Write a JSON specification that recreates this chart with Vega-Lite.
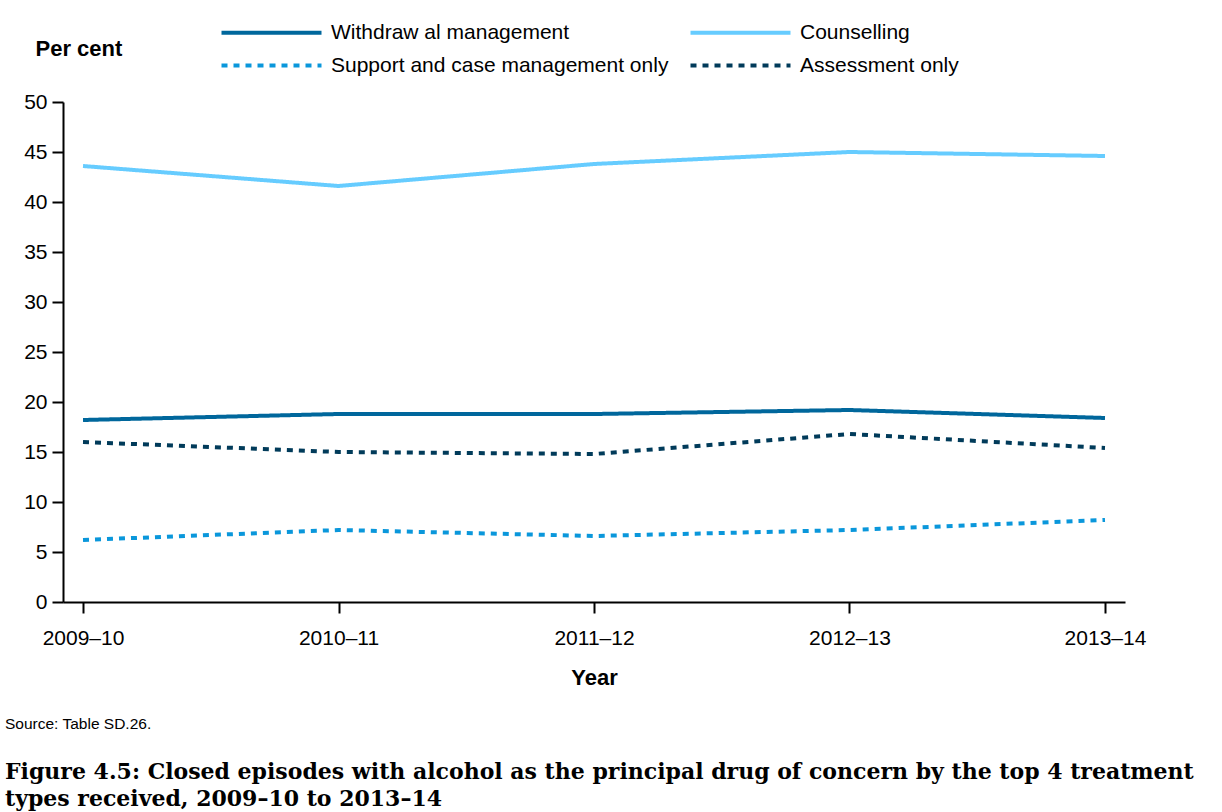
{
  "$schema": "https://vega.github.io/schema/vega-lite/v6.json",
  "width": 1062,
  "height": 500,
  "autosize": {"type": "none"},
  "padding": {"left": 63, "top": 102, "right": 97, "bottom": 210},
  "background": "white",
  "config": {
    "font": "Liberation Sans",
    "view": {"stroke": null},
    "axis": {"grid": false, "domainColor": "black", "tickColor": "black", "labelColor": "black", "titleColor": "black"}
  },
  "title": {
    "text": "Source: Table SD.26.",
    "subtitle": ["Figure 4.5: Closed episodes with alcohol as the principal drug of concern by the top 4 treatment", "types received, 2009–10 to 2013–14"],
    "orient": "bottom",
    "anchor": "start",
    "frame": "group",
    "dx": -58,
    "offset": 29,
    "font": "Liberation Sans",
    "fontSize": 15.5,
    "fontWeight": "normal",
    "color": "black",
    "subtitleFont": "DejaVu Serif",
    "subtitleFontSize": 22,
    "subtitleFontWeight": "bold",
    "subtitleColor": "black",
    "subtitleLineHeight": 27,
    "subtitlePadding": 29
  },
  "data": {
    "values": [
      {"year": "2009–10", "type": "Withdraw al management", "value": 18.2},
      {"year": "2010–11", "type": "Withdraw al management", "value": 18.8},
      {"year": "2011–12", "type": "Withdraw al management", "value": 18.8},
      {"year": "2012–13", "type": "Withdraw al management", "value": 19.2},
      {"year": "2013–14", "type": "Withdraw al management", "value": 18.4},
      {"year": "2009–10", "type": "Counselling", "value": 43.6},
      {"year": "2010–11", "type": "Counselling", "value": 41.6},
      {"year": "2011–12", "type": "Counselling", "value": 43.8},
      {"year": "2012–13", "type": "Counselling", "value": 45.0},
      {"year": "2013–14", "type": "Counselling", "value": 44.6},
      {"year": "2009–10", "type": "Support and case management only", "value": 6.2},
      {"year": "2010–11", "type": "Support and case management only", "value": 7.2},
      {"year": "2011–12", "type": "Support and case management only", "value": 6.6},
      {"year": "2012–13", "type": "Support and case management only", "value": 7.2},
      {"year": "2013–14", "type": "Support and case management only", "value": 8.2},
      {"year": "2009–10", "type": "Assessment only", "value": 16.0},
      {"year": "2010–11", "type": "Assessment only", "value": 15.0},
      {"year": "2011–12", "type": "Assessment only", "value": 14.8},
      {"year": "2012–13", "type": "Assessment only", "value": 16.8},
      {"year": "2013–14", "type": "Assessment only", "value": 15.4}
    ]
  },
  "mark": {"type": "line", "strokeWidth": 4, "strokeCap": "butt"},
  "encoding": {
    "x": {
      "field": "year",
      "type": "ordinal",
      "scale": {"type": "point", "padding": 0.0783},
      "axis": {
        "title": "Year",
        "titleFontSize": 22,
        "titleFontWeight": "bold",
        "titlePadding": 19,
        "labelAngle": 0,
        "labelFontSize": 21,
        "labelPadding": 14,
        "tickSize": 11,
        "tickWidth": 2,
        "domainWidth": 2
      }
    },
    "y": {
      "field": "value",
      "type": "quantitative",
      "scale": {"domain": [0, 50], "nice": false, "zero": true},
      "axis": {
        "title": "Per cent",
        "titleAngle": 0,
        "titleAlign": "left",
        "titleBaseline": "middle",
        "titleX": -28,
        "titleY": -54,
        "titleFontSize": 22,
        "titleFontWeight": "bold",
        "values": [0, 5, 10, 15, 20, 25, 30, 35, 40, 45, 50],
        "labelFontSize": 21,
        "labelPadding": 5,
        "tickSize": 11,
        "tickWidth": 2,
        "domainWidth": 2
      }
    },
    "color": {
      "field": "type",
      "type": "nominal",
      "scale": {
        "domain": ["Withdraw al management", "Support and case management only", "Counselling", "Assessment only"],
        "range": ["#00679C", "#0A97DB", "#66CCFF", "#013B5A"]
      },
      "legend": {
        "title": null,
        "orient": "none",
        "legendX": 198,
        "legendY": -80,
        "columns": 2,
        "columnPadding": 13,
        "rowPadding": 11,
        "padding": 0,
        "symbolType": "M-10,0H10",
        "symbolSize": 100,
        "symbolStrokeWidth": 4,
        "labelOffset": 49,
        "labelFontSize": 21,
        "labelColor": "black",
        "labelLimit": 500
      }
    },
    "strokeDash": {
      "field": "type",
      "type": "nominal",
      "scale": {
        "domain": ["Withdraw al management", "Support and case management only", "Counselling", "Assessment only"],
        "range": [[1, 0], [6, 6], [1, 0], [6, 6]]
      },
      "legend": {
        "title": null,
        "orient": "none",
        "legendX": 198,
        "legendY": -80,
        "columns": 2,
        "columnPadding": 13,
        "rowPadding": 11,
        "padding": 0,
        "symbolType": "M-10,0H10",
        "symbolSize": 100,
        "symbolStrokeWidth": 4,
        "labelOffset": 49,
        "labelFontSize": 21,
        "labelColor": "black",
        "labelLimit": 500
      }
    }
  }
}
